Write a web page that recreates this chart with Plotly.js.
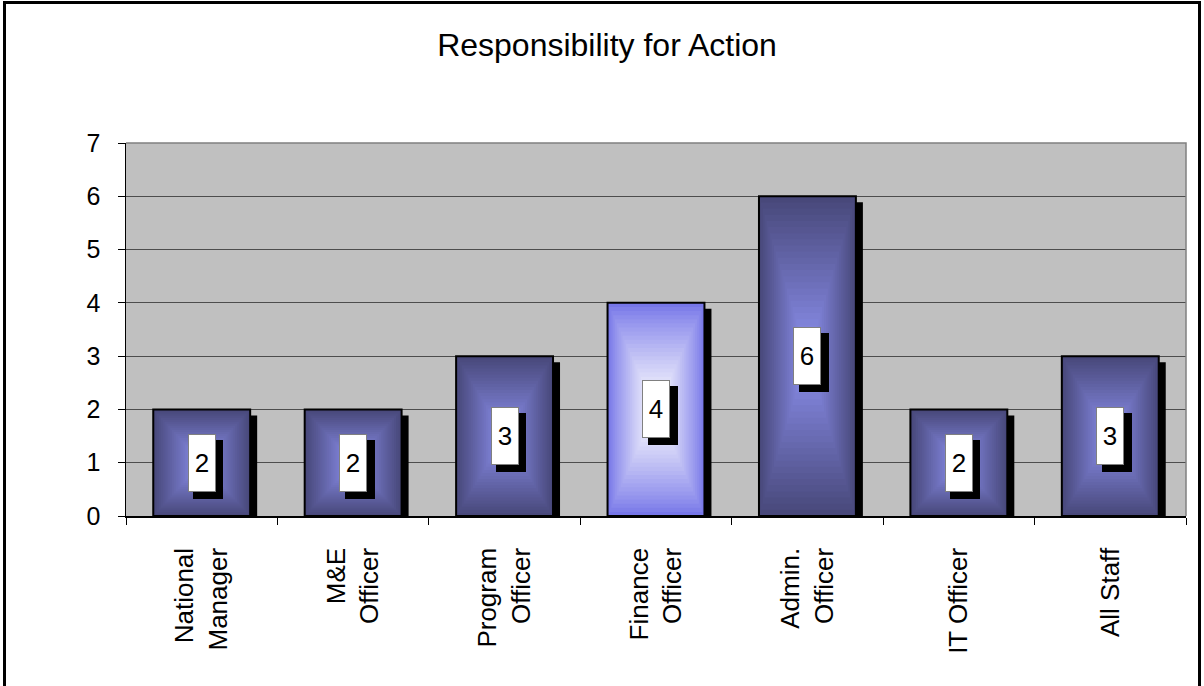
<!DOCTYPE html>
<html>
<head>
<meta charset="utf-8">
<script src="https://cdn.plot.ly/plotly-3.0.1.min.js"></script>
<style>
  html, body { margin: 0; padding: 0; background: #ffffff; overflow: hidden; }
  #wrap { position: relative; width: 1204px; height: 686px; overflow: hidden; }
  #chart { position: absolute; left: 0; top: 0; width: 1204px; height: 686px; }
  #frame { position: absolute; left: 3px; top: 1px; width: 1198px; height: 720px;
           border: 3px solid #000; pointer-events: none; box-sizing: border-box; }
</style>
</head>
<body>
<div id="wrap">
  <div id="chart"></div>
  <div id="frame"></div>
</div>
<script>
// ---- data ----
const categories = ["National Manager", "M&E Officer", "Program Officer", "Finance Officer",
                    "Admin. Officer", "IT Officer", "All Staff"];
const tickLabels = ["National<br>Manager", "M&amp;E<br>Officer", "Program<br>Officer", "Finance<br>Officer",
                    "Admin.<br>Officer", "IT Officer", "All Staff"];
const values = [2, 2, 3, 4, 6, 2, 3];
const yTicks = [0, 1, 2, 3, 4, 5, 6, 7];
const chartTitle = "Responsibility for Action";

// ---- style ----
const FONT = "Liberation Sans, Arial, sans-serif";
const BAR_W = 0.64;
const N_LAYERS = 26;
const edgeNormal = [72, 72, 122];
const centerNormal = [140, 144, 238];
const edgeHighlight = [118, 118, 232];
const centerHighlight = [255, 255, 255];
const highlighted = [false, false, false, true, false, false, false];

// shadow shift expressed in axis units (approx 7px right, 6px down)
const PLOT_W = 1060, PLOT_H = 373.5;
const SDX = 7 / (PLOT_W / categories.length);
const SDY = 6 / (PLOT_H / 7);

function mix(a, b, t) {
  const c = a.map((v, i) => Math.round(v + (b[i] - v) * t));
  return 'rgb(' + c.join(',') + ')';
}

const traces = [];

// invisible trace on main axes (defines the category axis)
traces.push({
  type: 'bar', x: categories, y: values, xaxis: 'x', yaxis: 'y',
  marker: { color: 'rgba(0,0,0,0)' }, width: BAR_W, hoverinfo: 'skip', showlegend: false
});

// drop shadow of the bars
traces.push({
  type: 'bar', x: categories, y: values, xaxis: 'x2', yaxis: 'y2',
  marker: { color: '#000000', line: { width: 0 } }, width: BAR_W,
  hoverinfo: 'skip', showlegend: false
});

// gradient bars: nested rectangles from edge colour to centre colour
for (let k = 0; k < N_LAYERS; k++) {
  const t = k / N_LAYERS;
  const tc = k / (N_LAYERS - 1);
  traces.push({
    type: 'bar', x: categories,
    y: values.map(v => v * (1 - t)),
    base: values.map(v => v * t / 2),
    xaxis: 'x3', yaxis: 'y3',
    width: BAR_W * (1 - t),
    marker: {
      color: values.map((v, i) => highlighted[i]
        ? mix(edgeHighlight, centerHighlight, Math.pow(tc, 0.85))
        : mix(edgeNormal, centerNormal, tc)),
      line: k === 0 ? { color: '#000000', width: 2 } : { width: 0 }
    },
    hoverinfo: 'skip', showlegend: false
  });
}

// data labels: white boxes with black drop shadow
const annotations = [];
categories.forEach((c, i) => {
  annotations.push({
    x: c, y: values[i] / 2, xref: 'x', yref: 'y', showarrow: false,
    text: ' ', font: { family: FONT, size: 26, color: '#000000' },
    bgcolor: '#000000', bordercolor: '#000000', borderwidth: 0, borderpad: 0,
    width: 30, height: 59, xshift: 6.5, yshift: -6.5
  });
  annotations.push({
    x: c, y: values[i] / 2, xref: 'x', yref: 'y', showarrow: false,
    text: String(values[i]), font: { family: FONT, size: 26, color: '#000000' },
    bgcolor: '#ffffff', bordercolor: '#808080', borderwidth: 1, borderpad: 0,
    width: 26, height: 56
  });
});

const layout = {
  width: 1204, height: 686,
  margin: { l: 126, r: 18, t: 143, b: 170, pad: 0 },
  paper_bgcolor: '#ffffff',
  plot_bgcolor: '#c0c0c0',
  barmode: 'overlay',
  showlegend: false,
  font: { family: FONT, color: '#000000' },
  title: {
    text: chartTitle, font: { family: FONT, size: 32, color: '#000000' },
    xref: 'container', yref: 'container', x: 607 / 1204, xanchor: 'center',
    y: 1 - 45 / 686, yanchor: 'middle'
  },
  xaxis: {
    type: 'category', categoryorder: 'array', categoryarray: categories,
    range: [-0.5, categories.length - 0.5], fixedrange: true,
    tickvals: categories, ticktext: tickLabels, tickangle: -90,
    tickson: 'boundaries', ticks: 'outside', ticklen: 7, tickcolor: '#000000', tickwidth: 1,
    tickfont: { family: FONT, size: 26, color: '#000000' },
    ticklabelstandoff: 20,
    showline: true, linecolor: '#000000', linewidth: 1.5,
    showgrid: false, zeroline: false
  },
  yaxis: {
    range: [0, 7], tickvals: yTicks, ticktext: yTicks.map(String), fixedrange: true,
    ticks: 'outside', ticklen: 7, tickcolor: '#000000', tickwidth: 1,
    tickfont: { family: FONT, size: 25, color: '#000000' },
    ticklabelstandoff: 12,
    showline: true, linecolor: '#000000', linewidth: 1.5,
    showgrid: true, gridcolor: '#4d4d4d', gridwidth: 1, zeroline: false
  },
  xaxis2: {
    type: 'category', categoryorder: 'array', categoryarray: categories,
    overlaying: 'x', range: [-0.5 - SDX, categories.length - 0.5 - SDX],
    visible: false, fixedrange: true
  },
  yaxis2: { overlaying: 'y', range: [SDY, 7 + SDY], visible: false, fixedrange: true },
  xaxis3: {
    type: 'category', categoryorder: 'array', categoryarray: categories,
    overlaying: 'x', range: [-0.5, categories.length - 0.5],
    visible: false, fixedrange: true
  },
  yaxis3: { overlaying: 'y', range: [0, 7], visible: false, fixedrange: true },
  shapes: [{
    type: 'path', xref: 'paper', yref: 'paper', path: 'M 0 1 L 1 1 L 1 0',
    line: { color: '#808080', width: 1.5 }, layer: 'above'
  }],
  annotations: annotations
};

Plotly.newPlot('chart', traces, layout, { displayModeBar: false, staticPlot: true });
</script>
</body>
</html>
